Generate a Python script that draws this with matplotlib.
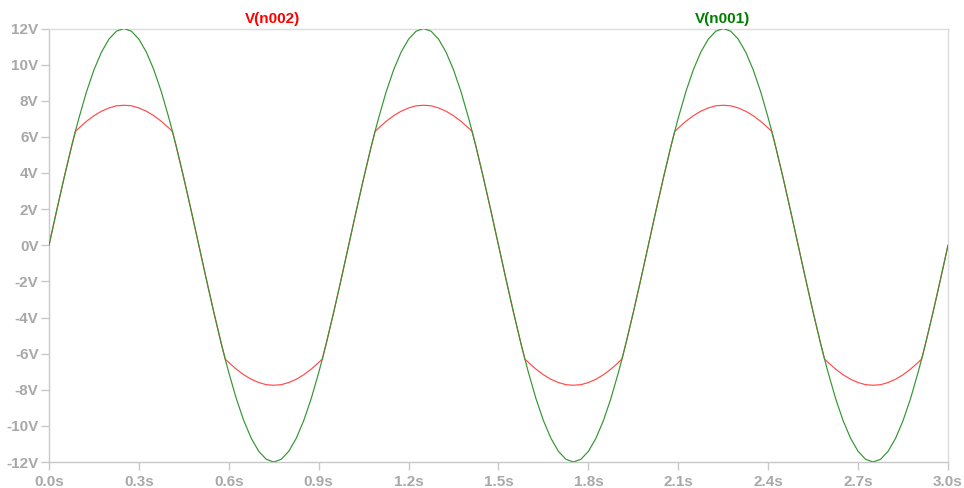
import matplotlib
matplotlib.use("Agg")
import matplotlib.pyplot as plt

# time points (s)
time_s = [
    0.000, 0.025, 0.050, 0.075, 0.088, 0.100, 0.125, 0.150, 0.175, 0.200, 0.225, 0.250,
    0.275, 0.300, 0.325, 0.350, 0.375, 0.400, 0.412, 0.425, 0.450, 0.475, 0.500,
    0.525, 0.550, 0.575, 0.588, 0.600, 0.625, 0.650, 0.675, 0.700, 0.725, 0.750,
    0.775, 0.800, 0.825, 0.850, 0.875, 0.900, 0.912, 0.925, 0.950, 0.975,
    1.000, 1.025, 1.050, 1.075, 1.088, 1.100, 1.125, 1.150, 1.175, 1.200, 1.225, 1.250,
    1.275, 1.300, 1.325, 1.350, 1.375, 1.400, 1.412, 1.425, 1.450, 1.475, 1.500,
    1.525, 1.550, 1.575, 1.588, 1.600, 1.625, 1.650, 1.675, 1.700, 1.725, 1.750,
    1.775, 1.800, 1.825, 1.850, 1.875, 1.900, 1.912, 1.925, 1.950, 1.975,
    2.000, 2.025, 2.050, 2.075, 2.088, 2.100, 2.125, 2.150, 2.175, 2.200, 2.225, 2.250,
    2.275, 2.300, 2.325, 2.350, 2.375, 2.400, 2.412, 2.425, 2.450, 2.475, 2.500,
    2.525, 2.550, 2.575, 2.588, 2.600, 2.625, 2.650, 2.675, 2.700, 2.725, 2.750,
    2.775, 2.800, 2.825, 2.850, 2.875, 2.900, 2.912, 2.925, 2.950, 2.975,
    3.000,
]

# V(n001) in volts
v_n001 = [
    0.00, 1.88, 3.71, 5.45, 6.30, 7.05, 8.49, 9.71, 10.69, 11.41, 11.85, 12.00,
    11.85, 11.41, 10.69, 9.71, 8.49, 7.05, 6.30, 5.45, 3.71, 1.88, 0.00,
    -1.88, -3.71, -5.45, -6.30, -7.05, -8.49, -9.71, -10.69, -11.41, -11.85, -12.00,
    -11.85, -11.41, -10.69, -9.71, -8.49, -7.05, -6.30, -5.45, -3.71, -1.88,
    0.00, 1.88, 3.71, 5.45, 6.30, 7.05, 8.49, 9.71, 10.69, 11.41, 11.85, 12.00,
    11.85, 11.41, 10.69, 9.71, 8.49, 7.05, 6.30, 5.45, 3.71, 1.88, 0.00,
    -1.88, -3.71, -5.45, -6.30, -7.05, -8.49, -9.71, -10.69, -11.41, -11.85, -12.00,
    -11.85, -11.41, -10.69, -9.71, -8.49, -7.05, -6.30, -5.45, -3.71, -1.88,
    0.00, 1.88, 3.71, 5.45, 6.30, 7.05, 8.49, 9.71, 10.69, 11.41, 11.85, 12.00,
    11.85, 11.41, 10.69, 9.71, 8.49, 7.05, 6.30, 5.45, 3.71, 1.88, 0.00,
    -1.88, -3.71, -5.45, -6.30, -7.05, -8.49, -9.71, -10.69, -11.41, -11.85, -12.00,
    -11.85, -11.41, -10.69, -9.71, -8.49, -7.05, -6.30, -5.45, -3.71, -1.88,
    0.00,
]

# V(n002) in volts
v_n002 = [
    0.00, 1.88, 3.71, 5.45, 6.30, 6.49, 6.86, 7.17, 7.42, 7.60, 7.72, 7.75,
    7.72, 7.60, 7.42, 7.17, 6.86, 6.49, 6.30, 5.45, 3.71, 1.88, 0.00,
    -1.88, -3.71, -5.45, -6.30, -6.49, -6.86, -7.17, -7.42, -7.60, -7.72, -7.75,
    -7.72, -7.60, -7.42, -7.17, -6.86, -6.49, -6.30, -5.45, -3.71, -1.88,
    0.00, 1.88, 3.71, 5.45, 6.30, 6.49, 6.86, 7.17, 7.42, 7.60, 7.72, 7.75,
    7.72, 7.60, 7.42, 7.17, 6.86, 6.49, 6.30, 5.45, 3.71, 1.88, 0.00,
    -1.88, -3.71, -5.45, -6.30, -6.49, -6.86, -7.17, -7.42, -7.60, -7.72, -7.75,
    -7.72, -7.60, -7.42, -7.17, -6.86, -6.49, -6.30, -5.45, -3.71, -1.88,
    0.00, 1.88, 3.71, 5.45, 6.30, 6.49, 6.86, 7.17, 7.42, 7.60, 7.72, 7.75,
    7.72, 7.60, 7.42, 7.17, 6.86, 6.49, 6.30, 5.45, 3.71, 1.88, 0.00,
    -1.88, -3.71, -5.45, -6.30, -6.49, -6.86, -7.17, -7.42, -7.60, -7.72, -7.75,
    -7.72, -7.60, -7.42, -7.17, -6.86, -6.49, -6.30, -5.45, -3.71, -1.88,
    0.00,
]

x_ticks = [0.0, 0.3, 0.6, 0.9, 1.2, 1.5, 1.8, 2.1, 2.4, 2.7, 3.0]
x_labels = ["0.0s", "0.3s", "0.6s", "0.9s", "1.2s", "1.5s", "1.8s", "2.1s", "2.4s", "2.7s", "3.0s"]
y_ticks = [-12, -10, -8, -6, -4, -2, 0, 2, 4, 6, 8, 10, 12]
y_labels = ["-12V", "-10V", "-8V", "-6V", "-4V", "-2V", "0V", "2V", "4V", "6V", "8V", "10V", "12V"]

plt.rcParams['font.family'] = ['Liberation Sans', 'DejaVu Sans']

fig = plt.figure(figsize=(9.64, 4.88), dpi=100)
ax = fig.add_axes([49 / 964, 1 - 462 / 488, (948 - 49) / 964, (462 - 28.5) / 488])

ax.plot(time_s, v_n002, color='#ff4a4a', lw=0.85, zorder=2)
ax.plot(time_s, v_n001, color='#329632', lw=0.85, zorder=3)

ax.set_xlim(0, 3.0)
ax.set_ylim(-12, 12)
ax.set_xticks(x_ticks)
ax.set_xticklabels(x_labels)
ax.set_yticks(y_ticks)
ax.set_yticklabels(y_labels)

tick_gray = '#a8a8a8'
ax.tick_params(axis='both', colors='#c8c8c8', labelcolor=tick_gray, length=6, width=1, labelsize=11)
ax.tick_params(axis='y', pad=1.5)
ax.tick_params(axis='x', pad=3)
for lab in ax.get_xticklabels() + ax.get_yticklabels():
    lab.set_fontweight('bold')

for side in ['left', 'bottom']:
    ax.spines[side].set_color('#c8c8c8')
    ax.spines[side].set_linewidth(1)
for side in ['top', 'right']:
    ax.spines[side].set_color('#dcdcdc')
    ax.spines[side].set_linewidth(1)

fig.text(273 / 964, 1 - 19 / 488, "V(n002)", color='#ff0000', fontsize=11, fontweight='bold',
         ha='center', va='center')
fig.text(723 / 964, 1 - 19 / 488, "V(n001)", color='#008000', fontsize=11, fontweight='bold',
         ha='center', va='center')

fig.savefig("out.png", dpi=100)
